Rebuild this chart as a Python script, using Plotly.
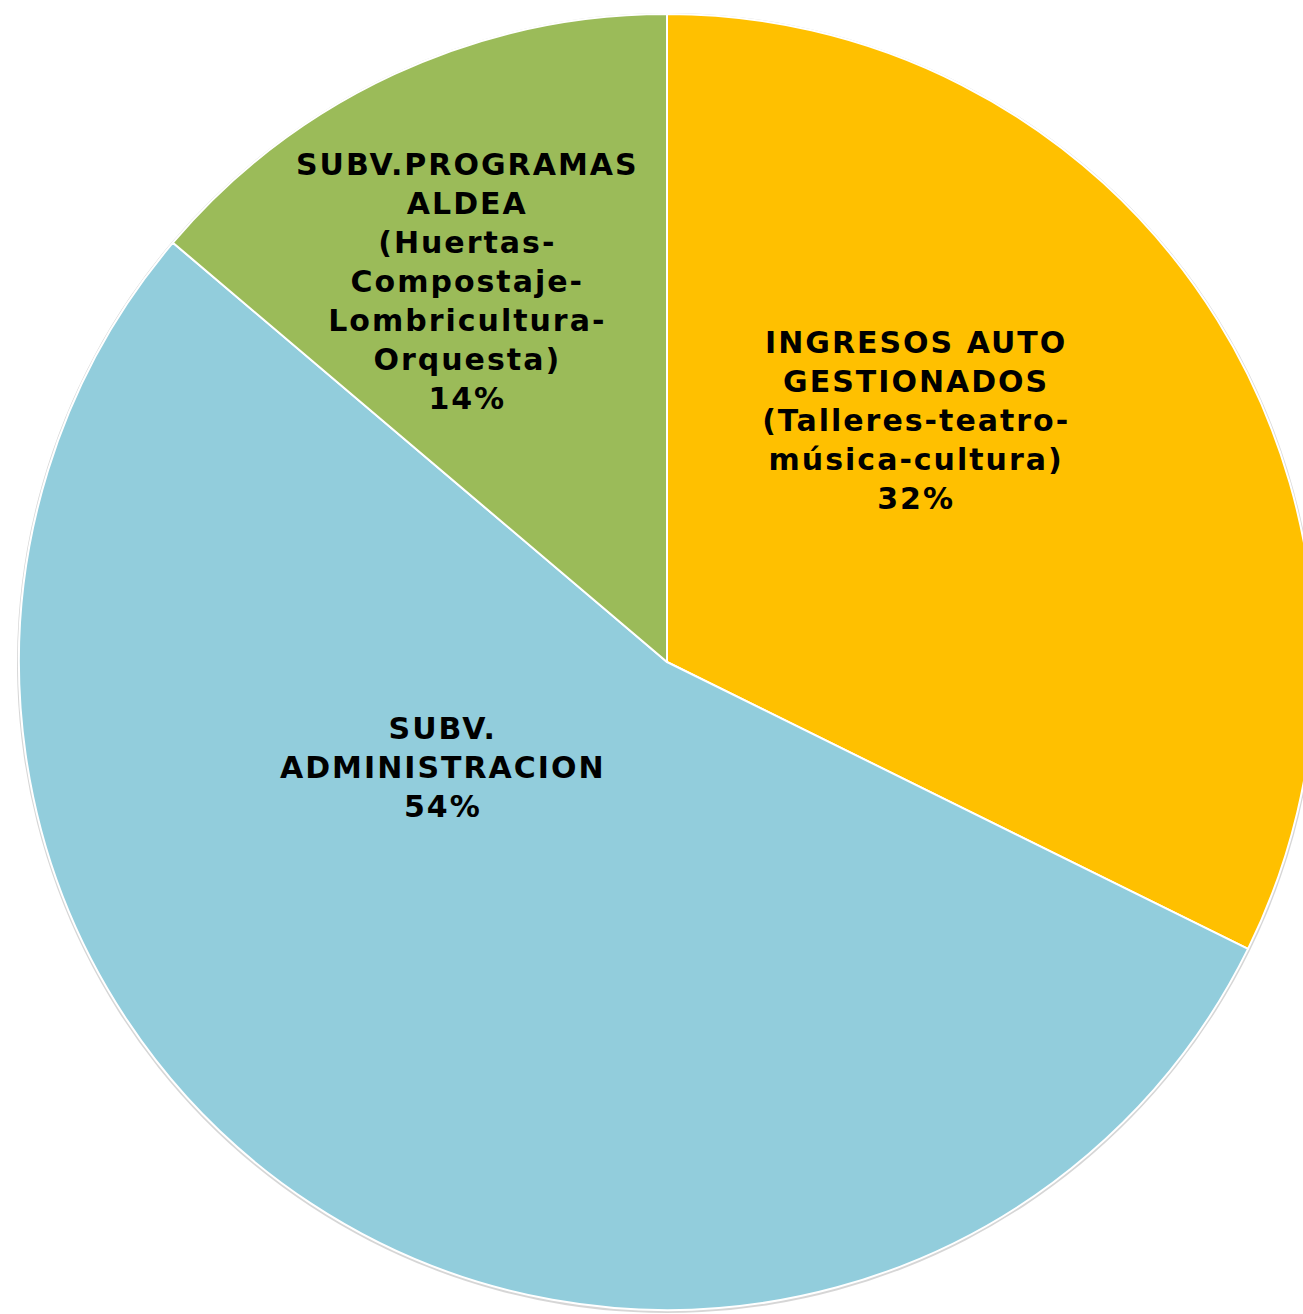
import plotly.graph_objects as go

labels = [
    "INGRESOS AUTO<br>GESTIONADOS<br>(Talleres-teatro-<br>música-cultura)",
    "SUBV.<br>ADMINISTRACION",
    "SUBV.PROGRAMAS<br>ALDEA<br>(Huertas-<br>Compostaje-<br>Lombricultura-<br>Orquesta)",
]
values = [32.3, 53.9, 13.8]
colors = ["#FFC000", "#92CDDC", "#9BBB59"]

W, H = 1330, 1314
cx, cy, r = 667, 662, 648

# label anchor points (pixels)
label_pos = [(916, 420), (443, 767), (467, 281)]

fig = go.Figure()

# soft shadow
fig.add_trace(go.Pie(
    values=values, labels=labels, sort=False, direction="clockwise", rotation=0,
    marker=dict(colors=["rgba(0,0,0,0.16)"] * 3, line=dict(width=0)),
    textinfo="none", hoverinfo="skip", showlegend=False,
    domain=dict(x=[(cx - r - 2) / W, (cx + r + 2) / W],
                y=[1 - (cy + r + 3) / H, 1 - (cy - r - 1) / H]),
))

fig.add_trace(go.Pie(
    values=values, labels=labels, sort=False, direction="clockwise", rotation=0,
    marker=dict(colors=colors, line=dict(color="white", width=2)),
    textinfo="none", showlegend=False,
    domain=dict(x=[(cx - r) / W, (cx + r) / W],
                y=[1 - (cy + r) / H, 1 - (cy - r) / H]),
))

total = sum(values)
for lab, v, (px, py) in zip(labels, values, label_pos):
    fig.add_annotation(
        x=px / W, y=1 - py / H, xref="paper", yref="paper",
        text=f"<b>{lab}<br>{round(100 * v / total)}%</b>",
        showarrow=False, align="center", xanchor="center", yanchor="middle",
        font=dict(family="DejaVu Sans", size=30, color="black"),
    )

fig.update_layout(
    width=W, height=H, margin=dict(l=0, r=0, t=0, b=0),
    paper_bgcolor="white", plot_bgcolor="white",
)

post = (
    "document.body.style.margin='0';document.body.style.overflow='hidden';"
    "document.querySelectorAll('.annotation-text').forEach(function(e){e.style.letterSpacing='2px';});"
)
fig.write_html("out.html", post_script=post, config={"displayModeBar": False})
